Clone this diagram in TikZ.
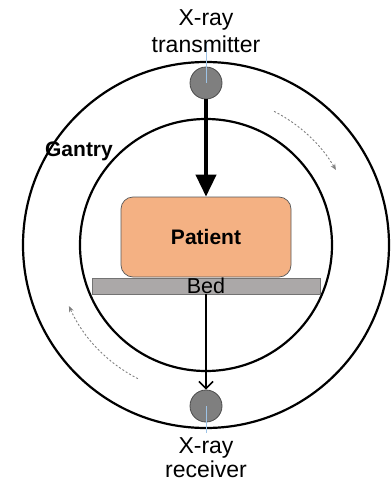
\documentclass[tikz,border=0pt]{standalone}
\usepackage{fontspec}
\setmainfont{Liberation Sans}
\usetikzlibrary{arrows.meta,calc}
\definecolor{patfill}{HTML}{F4B183}
\definecolor{bedfill}{HTML}{ABA8A8}
\definecolor{dotgray}{HTML}{7F7F7F}
\definecolor{beamblue}{HTML}{9DC3E6}
\tikzset{
  ring/.style={circle, draw=black, line width=2.2pt, inner sep=0pt},
  emitter/.style={circle, draw=black!70, fill=dotgray, line width=0.8pt, minimum size=32pt, inner sep=0pt},
  lbl/.style={font=\fontsize{23pt}{27pt}\selectfont, anchor=base, inner sep=0pt},
  bedlbl/.style={lbl, font=\fontsize{21.5pt}{25pt}\selectfont},
  blbl/.style={lbl, font=\fontsize{21pt}{25pt}\selectfont\bfseries},
  rotarrow/.style={dotgray, line width=0.9pt, dash pattern=on 2pt off 2pt, -{Stealth[length=6pt,width=5pt]}},
  beam/.style={beamblue, line width=0.8pt}
}
\begin{document}
\begin{tikzpicture}[x=1pt,y=1pt]
\useasboundingbox (0,0) rectangle (391,-482);
\coordinate (c) at (206,-245);
\node (outer) [ring, minimum size=366pt] at (c) {};
\node (inner) [ring, minimum size=252pt] at (c) {};
% rotation arrows
\draw[rotarrow] ($(c)+(63:150pt)$) arc[start angle=63, end angle=30, radius=150pt];
\draw[rotarrow] ($(c)+(243:150pt)$) arc[start angle=243, end angle=204, radius=150pt];
% patient and bed
\node (patient) [draw=black!65, fill=patfill, rounded corners=12pt, minimum width=170pt, minimum height=80pt, line width=0.7pt, inner sep=0pt] at (206,-237) {};
\node (bed) [draw=black!55, fill=bedfill, minimum width=228pt, minimum height=16pt, line width=0.7pt, inner sep=0pt] at (206,-286) {};
\node (ptxt) [blbl] at (206,-244) {Patient};
\node (btxt) [bedlbl] at (206,-293) {Bed};
% emitters
\node (tx) [emitter] at (206,-83) {};
\node (rx) [emitter] at (206,-406) {};
\coordinate (txtop) at (206,-42);
\coordinate (rxbot) at (206,-433);
\draw[beam] (txtop) -- (tx.center);
\draw[beam] (rx.center) -- (rxbot);
% beams
\draw[line width=4pt, -{Triangle[length=22pt,width=20pt]}] (tx.south) -- (patient.north);
\draw[line width=1.6pt, -{Straight Barb[length=7pt,width=14pt]}] (bed.south) -- (rx.north);
% labels
\node (tx1) [lbl] at (206,-25) {X-ray};
\node (tx2) [lbl] at (206,-52) {transmitter};
\node (rx1) [lbl] at (206,-453) {X-ray};
\node (rx2) [lbl] at (206,-477) {receiver};
\node (gantry) [blbl] at (79,-156) {Gantry};
\end{tikzpicture}
\end{document}
